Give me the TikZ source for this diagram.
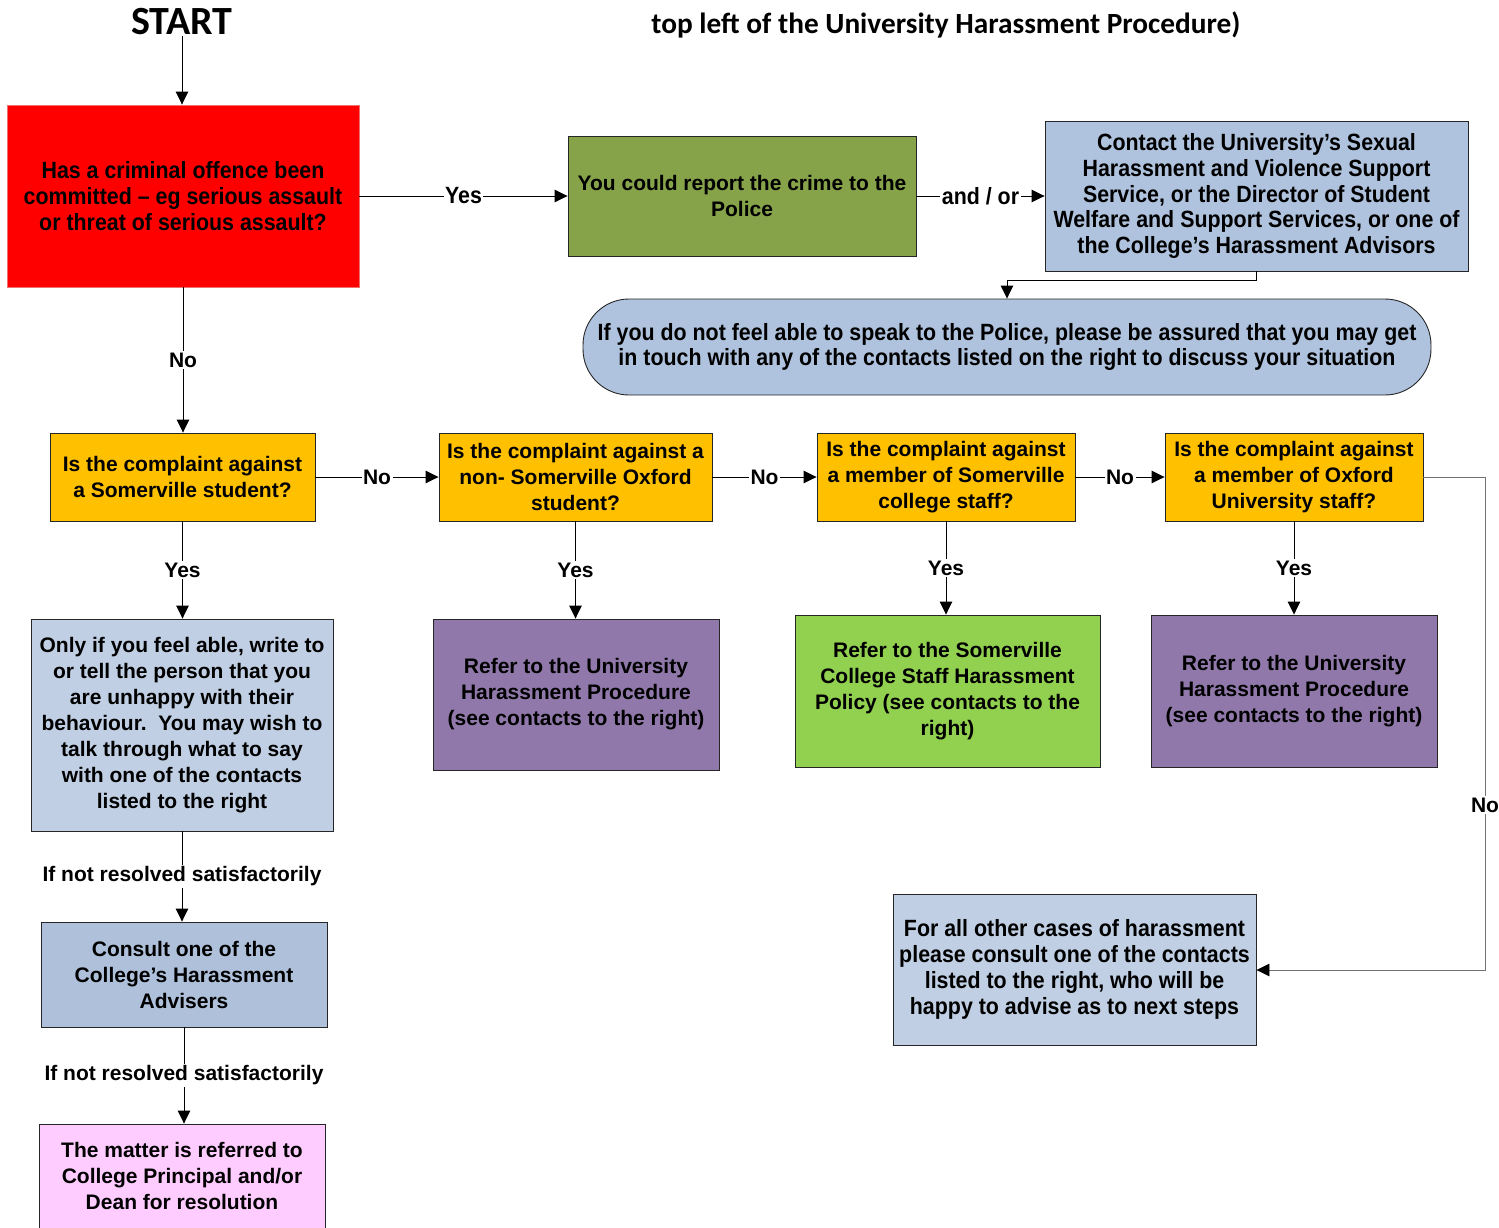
\documentclass[tikz,border=0pt]{standalone}
\usepackage{fontspec}
\setmainfont{Liberation Sans}
\newfontfamily\narrowf[FakeStretch=0.91,Ligatures=TeX]{Liberation Sans}
\newfontfamily\calibf{Carlito}
\usetikzlibrary{arrows.meta}
\definecolor{crimered}{HTML}{FF0000}
\definecolor{crimeborder}{HTML}{F07070}
\definecolor{olive}{HTML}{86A34A}
\definecolor{steel}{HTML}{B0C3DE}
\definecolor{paleblue}{HTML}{C0CFE3}
\definecolor{amber}{HTML}{FFC000}
\definecolor{lilac}{HTML}{9079AA}
\definecolor{lime}{HTML}{92D050}
\definecolor{pinkish}{HTML}{FFCCFF}
\definecolor{consultblue}{HTML}{AEC0DA}
\begin{document}
\begin{tikzpicture}[x=1pt,y=-1pt,
  box/.style={draw=black!85, line width=0.9pt, align=center, inner sep=0pt,
    font=\bfseries\fontsize{21}{26}\selectfont},
  nbox/.style={box, font=\narrowf\bfseries\fontsize{23.5}{25.8}\selectfont},
  arr/.style={-{Triangle[length=13pt,width=12.5pt,color=black]}, line width=0.9pt},
  lbl/.style={fill=white, inner sep=1.5pt, font=\bfseries\fontsize{21}{26}\selectfont},
  nlbl/.style={lbl, font=\narrowf\bfseries\fontsize{23.5}{26}\selectfont}]
\useasboundingbox (0,0) rectangle (1499,1227);

% headings
\node[anchor=base, inner sep=0pt, font=\calibf\bfseries\fontsize{40}{44}\selectfont] (start) at (182,34) {START};
\node[anchor=base, inner sep=0pt, font=\calibf\bfseries\fontsize{29.3}{34}\selectfont] (heading) at (946,33) {top left of the University Harassment Procedure)};

% boxes
\node[nbox, fill=crimered, draw=crimeborder, minimum width=352pt, minimum height=182pt] (crime) at (183,196)
  {Has a criminal offence been\\committed – eg serious assault\\or threat of serious assault?};
\node[box, fill=olive, minimum width=348pt, minimum height=120pt] (police) at (742,196)
  {You could report the crime to the\\Police};
\node[nbox, fill=steel, minimum width=423pt, minimum height=150pt] (contact) at (1256.5,196)
  {Contact the University’s Sexual\\Harassment and Violence Support\\Service, or the Director of Student\\Welfare and Support Services, or one of\\the College’s Harassment Advisors};
\node[nbox, fill=steel, rounded corners=46pt, minimum width=848pt, minimum height=96pt] (assured) at (1007,347)
  {If you do not feel able to speak to the Police, please be assured that you may get\\in touch with any of the contacts listed on the right to discuss your situation};

\node[box, fill=amber, minimum width=265pt, minimum height=88pt] (q1) at (182.5,477)
  {Is the complaint against\\a Somerville student?};
\node[box, fill=amber, minimum width=273pt, minimum height=88pt] (q2) at (575.5,477)
  {Is the complaint against a\\non- Somerville Oxford\\student?};
\node[box, fill=amber, minimum width=258pt, minimum height=88pt] (q3) at (946,477)
  {Is the complaint against\\a member of Somerville\\college staff?};
\node[box, fill=amber, minimum width=258pt, minimum height=88pt] (q4) at (1294,477)
  {Is the complaint against\\a member of Oxford\\University staff?};

\node[box, fill=paleblue, minimum width=302pt, minimum height=212pt] (tell) at (182,725)
  {Only if you feel able, write to\\or tell the person that you\\are unhappy with their\\behaviour.\ \ You may wish to\\talk through what to say\\with one of the contacts\\listed to the right};
\node[box, fill=lilac, minimum width=286pt, minimum height=151pt] (uni1) at (576,694.5)
  {Refer to the University\\Harassment Procedure\\(see contacts to the right)};
\node[box, fill=lime, minimum width=305pt, minimum height=152pt] (somstaff) at (947.5,691)
  {Refer to the Somerville\\College Staff Harassment\\Policy (see contacts to the\\right)};
\node[box, fill=lilac, minimum width=286pt, minimum height=152pt] (uni2) at (1294,691)
  {Refer to the University\\Harassment Procedure\\(see contacts to the right)};

\node[box, fill=consultblue, minimum width=286pt, minimum height=105pt] (consult) at (184,974.5)
  {Consult one of the\\College’s Harassment\\Advisers};
\node[box, fill=pinkish, minimum width=286pt, minimum height=104pt] (principal) at (182,1176)
  {The matter is referred to\\College Principal and/or\\Dean for resolution};
\node[nbox, fill=paleblue, minimum width=363pt, minimum height=151pt] (other) at (1074.5,969.5)
  {For all other cases of harassment\\please consult one of the contacts\\listed to the right, who will be\\happy to advise as to next steps};

% connectors
\draw[arr] (start.south |- 0,36) -- (start.south |- crime.north);
\draw[arr] (crime.east) -- node[nlbl]{Yes} (police.west);
\draw[arr] (police.east) -- node[nlbl]{and / or} (contact.west);
\draw[arr] (contact.south) -- ++(0,9) -| (assured.north);
\draw[arr] (crime.south) -- node[lbl]{No} (crime.south |- q1.north);
\draw[arr] (q1.east) -- node[lbl]{No} (q2.west);
\draw[arr] (q2.east) -- node[lbl]{No} (q3.west);
\draw[arr] (q3.east) -- node[lbl]{No} (q4.west);
\draw[arr] (q1.south) -- node[lbl]{Yes} (q1.south |- tell.north);
\draw[arr] (q2.south) -- node[lbl]{Yes} (q2.south |- uni1.north);
\draw[arr] (q3.south) -- node[lbl]{Yes} (q3.south |- somstaff.north);
\draw[arr] (q4.south) -- node[lbl]{Yes} (q4.south |- uni2.north);
\coordinate (rtop) at (1485,477);
\coordinate (rbot) at (1485,970);
\draw[arr, draw=black!55] (q4.east) -- (rtop) -- (rbot) -- (other.east |- rbot);
\node[lbl] (nolabel) at (1485,805) {No};
\draw[arr] (tell.south) -- node[lbl]{If not resolved satisfactorily} (tell.south |- consult.north);
\draw[arr] (consult.south) -- node[lbl]{If not resolved satisfactorily} (consult.south |- principal.north);
\end{tikzpicture}
\end{document}
